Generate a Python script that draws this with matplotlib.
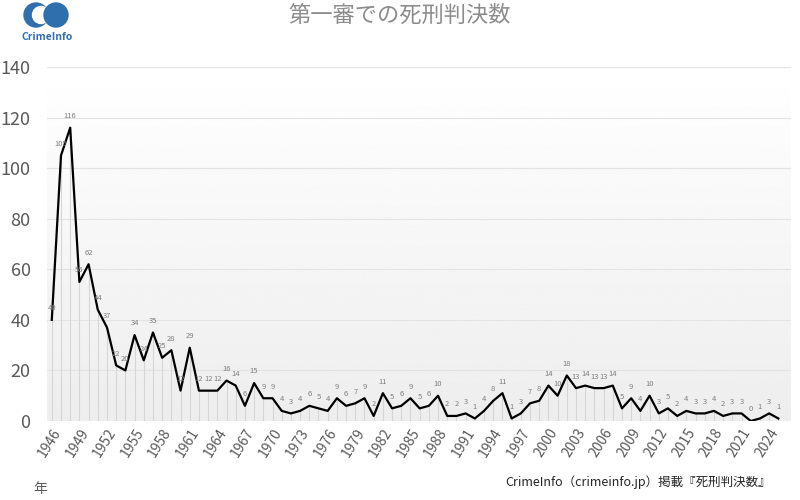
import numpy as np
import matplotlib
matplotlib.use("Agg")
import matplotlib.pyplot as plt
from matplotlib.patches import Circle

plt.rcParams['font.family'] = ['Noto Sans CJK JP', 'DejaVu Sans']

years = list(range(1946, 2026))
counts = [40, 105, 116, 55, 62, 44, 37, 22, 20, 34,
          24, 35, 25, 28, 12, 29, 12, 12, 12, 16,
          14, 6, 15, 9, 9, 4, 3, 4, 6, 5,
          4, 9, 6, 7, 9, 2, 11, 5, 6, 9,
          5, 6, 10, 2, 2, 3, 1, 4, 8, 11,
          1, 3, 7, 8, 14, 10, 18, 13, 14, 13,
          13, 14, 5, 9, 4, 10, 3, 5, 2, 4,
          3, 3, 4, 2, 3, 3, 0, 1, 3, 1]
tick_years = list(range(1946, 2026, 3))

title = "第一審での死刑判決数"
source = "CrimeInfo（crimeinfo.jp）掲載『死刑判決数』"
grey = "#595959"

fig = plt.figure(figsize=(8, 5), dpi=100)
ax = fig.add_axes([0.059, 0.158, 0.93, 0.708])

x0, x1 = 1945.5, 2026.4

# background gradient, white at top to light grey at bottom
grad = np.linspace(1.0, 0.93, 256).reshape(-1, 1)
ax.imshow(grad, extent=[x0, x1, 0, 140], origin='upper', aspect='auto',
          cmap='gray', vmin=0, vmax=1, zorder=0)
ax.set_xlim(x0, x1)
ax.set_ylim(0, 140)

for y in range(20, 141, 20):
    ax.axhline(y, color='#e3e3e3', lw=0.8, zorder=1)

ax.vlines(years, 0, counts, color='#d6d6d6', lw=0.8, zorder=2)
ax.plot(years, counts, color='black', lw=1.6, zorder=3)

for yr, c in zip(years, counts):
    ax.text(yr, c + 3, str(c), ha='center', va='bottom', fontsize=5.5,
            color='#7f7f7f', zorder=4)

for s in ax.spines.values():
    s.set_visible(False)
ax.tick_params(length=0)
ax.set_yticks(range(0, 141, 20))
ax.set_yticklabels([str(v) for v in range(0, 141, 20)], fontsize=13, color=grey)
ax.tick_params(axis='y', pad=12)
ax.set_xticks(tick_years)
ax.set_xticklabels([str(t) for t in tick_years], rotation=58, ha='right',
                   rotation_mode='anchor', fontsize=10, color=grey)

fig.text(0.5, 0.97, title, ha='center', va='center', fontsize=16, color='#8c8c8c')
fig.text(0.05, 0.022, "年", ha='center', va='center', fontsize=10, color=grey)
fig.text(0.632, 0.036, source, ha='left', va='center', fontsize=9, color='#262626')

# logo
lax = fig.add_axes([0, 0.9, 0.125, 0.1])
lax.set_xlim(0, 100)
lax.set_ylim(50, 0)
lax.axis('off')
blue = '#2f6fae'
lax.add_patch(Circle((36, 15), 12, color=blue))
lax.add_patch(Circle((41, 15), 8.5, color='white'))
lax.add_patch(Circle((56, 15), 12, color=blue))
lax.text(47, 37, "CrimeInfo", ha='center', va='center', fontsize=7.5,
         fontweight='bold', color=blue)

fig.savefig("out.png", dpi=100)
